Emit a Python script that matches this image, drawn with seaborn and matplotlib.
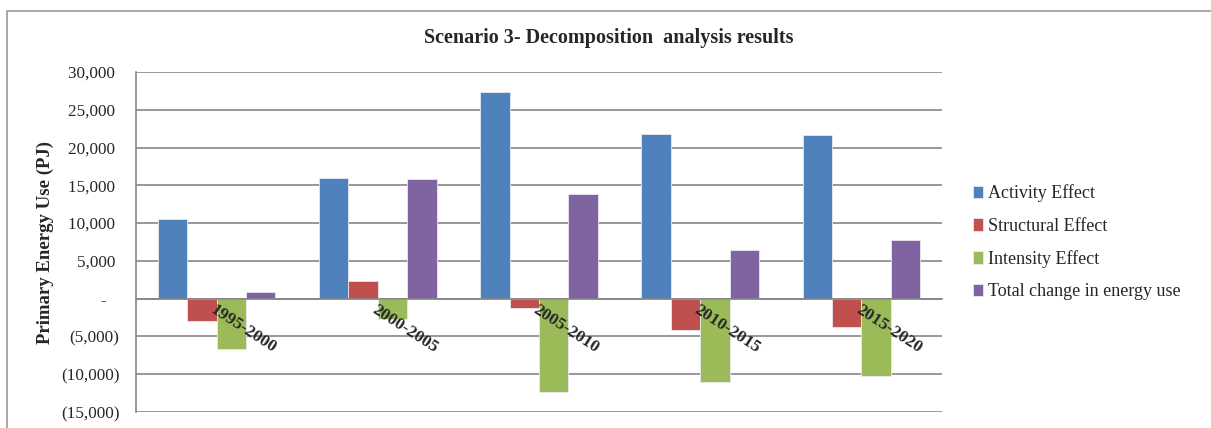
import matplotlib
matplotlib.use("Agg")
import matplotlib.pyplot as plt
import seaborn as sns
import pandas as pd
from matplotlib.ticker import FuncFormatter
from matplotlib.patches import Rectangle

periods = ["1995-2000", "2000-2005", "2005-2010", "2010-2015", "2015-2020"]
series_names = ["Activity Effect", "Structural Effect", "Intensity Effect",
                "Total change in energy use"]
activity = [10500, 16000, 27300, 21800, 21600]
structural = [-2900, 2300, -1200, -4200, -3700]
intensity = [-6700, -2700, -12400, -11000, -10300]
total = [850, 15800, 13900, 6500, 7800]
colors = ["#4F81BD", "#C0504D", "#9BBB59", "#8064A2"]

rows = []
for name, vals in zip(series_names, [activity, structural, intensity, total]):
    for p, v in zip(periods, vals):
        rows.append({"Period": p, "Series": name, "Value": v})
df = pd.DataFrame(rows)

sns.set_style("white")
plt.rcParams["font.family"] = ["Liberation Serif", "DejaVu Serif"]

fig = plt.figure(figsize=(12.11, 4.28), dpi=100)
ax = fig.add_axes([136/1211, 16/428, 806/1211, 340/428])

sns.barplot(data=df, x="Period", y="Value", hue="Series", order=periods,
            hue_order=series_names, palette=colors, width=0.73,
            edgecolor="#e8e8f0", linewidth=0.6, ax=ax, errorbar=None, saturation=1)

ax.set_ylim(-15000, 30000)
ax.set_yticks(range(-15000, 30001, 5000))

def fmt(v, pos):
    v = int(round(v))
    if v == 0:
        return "-   "
    if v < 0:
        return f"({-v:,})"
    return f"{v:,} "
ax.yaxis.set_major_formatter(FuncFormatter(fmt))
ax.tick_params(axis="y", labelsize=12.3, length=6, color="#868686", width=1.2, pad=6)
ax.yaxis.grid(True, color="#868686", lw=1.2)
ax.set_axisbelow(True)

for s in ["top", "right"]:
    ax.spines[s].set_visible(False)
ax.spines["left"].set_color("#868686")
ax.spines["left"].set_linewidth(1.2)
ax.spines["bottom"].set_position(("data", 0))
ax.spines["bottom"].set_color("#868686")
ax.spines["bottom"].set_linewidth(1.2)

ax.tick_params(axis="x", length=0, pad=2)
ax.set_xlabel("")
plt.setp(ax.get_xticklabels(), rotation=-33, ha="left", va="top",
         rotation_mode="anchor", fontweight="bold", fontsize=12.5)
ax.xaxis.set_zorder(5)

ax.set_ylabel("Primary Energy Use (PJ)", fontsize=13.5, fontweight="bold")
ax.yaxis.set_label_coords(-0.1018, 0.5)

handles, labels = ax.get_legend_handles_labels()
ax.legend(handles, labels, loc="center left", bbox_to_anchor=(1.038, 0.4985),
          frameon=False, fontsize=13, handlelength=0.55, handleheight=0.7,
          handletextpad=0.3, labelspacing=0.85, borderpad=0, borderaxespad=0)

fig.text(0.503, 1 - 38/428, "Scenario 3- Decomposition  analysis results",
         ha="center", va="center", fontsize=14.5, fontweight="bold")

fig.patches.append(Rectangle((7/1211, -0.05), 1.2, 1.05 - 11/428,
                             transform=fig.transFigure, fill=False,
                             edgecolor="#9a9a9a", lw=1.2))

fig.savefig("out.png", dpi=100)
